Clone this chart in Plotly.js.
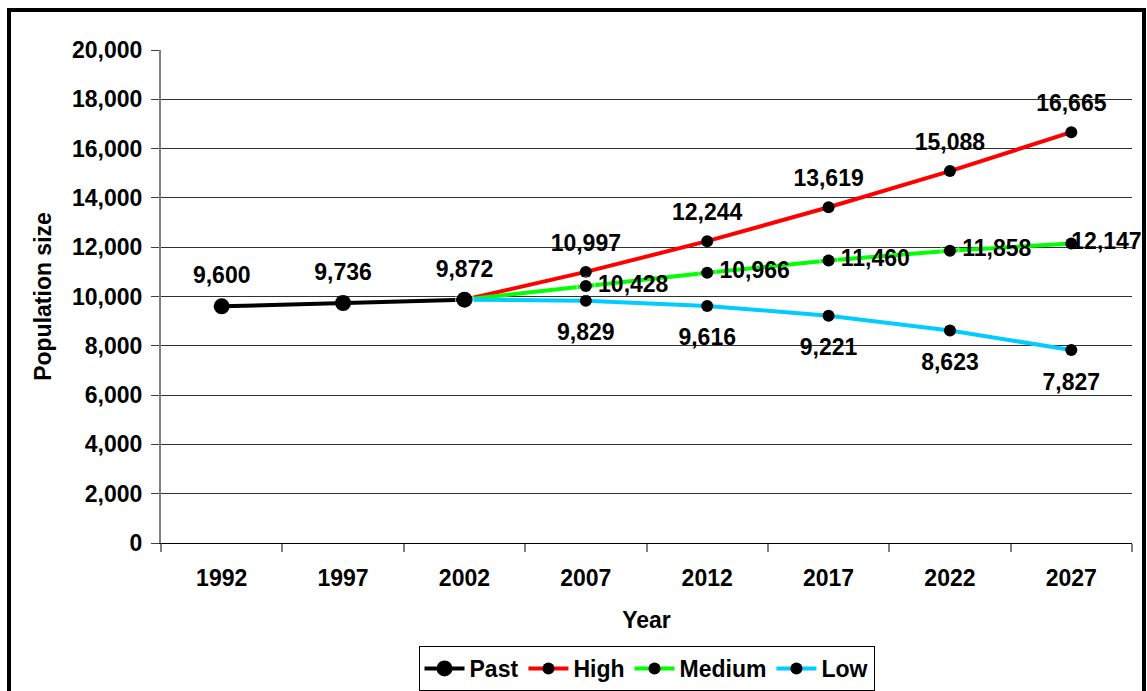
<!DOCTYPE html>
<html>
<head>
<meta charset="utf-8">
<script src="https://cdn.plot.ly/plotly-3.0.1.min.js"></script>
<style>
  html, body { margin: 0; padding: 0; background: #fff; overflow: hidden; }
  #chart { width: 1147px; height: 691px; }
  #frame { position: absolute; left: 7px; top: 8px; width: 1131px; height: 720px; border: 4px solid #000; pointer-events: none; }
</style>
</head>
<body>
<div id="chart"></div>
<div id="frame"></div>
<script>
const years = ['1992', '1997', '2002', '2007', '2012', '2017', '2022', '2027'];
const past   = [9600, 9736, 9872, null, null, null, null, null];
const high   = [null, null, 9872, 10997, 12244, 13619, 15088, 16665];
const medium = [null, null, 9872, 10428, 10966, 11460, 11858, 12147];
const low    = [null, null, 9872, 9829, 9616, 9221, 8623, 7827];
const yTicks = [0, 2000, 4000, 6000, 8000, 10000, 12000, 14000, 16000, 18000, 20000];

const FONT = 'Liberation Sans, Arial, sans-serif';
const textFont = { family: FONT, size: 23, color: '#000', weight: 700 };

function series(name, vals, color, msize, rank) {
  return {
    type: 'scatter', mode: 'lines+markers', name: name,
    x: years, y: vals, connectgaps: false, cliponaxis: false,
    line: { color: color, width: 4 },
    marker: { color: '#000', size: msize },
    legendrank: rank, hoverinfo: 'x+y'
  };
}

// text-only label traces; the transparent marker size sets the label offset
function labelTrace(vals, skipIdx, pos, padSize) {
  const txt = vals.map((v, i) => (v === null || i === skipIdx) ? '' : v.toLocaleString('en-US'));
  return {
    type: 'scatter', mode: 'markers+text', showlegend: false, hoverinfo: 'skip',
    x: years, y: vals, text: txt, textposition: pos, textfont: textFont,
    cliponaxis: false,
    marker: { size: padSize, color: 'rgba(0,0,0,0)' }
  };
}

const mediumPad = medium.map((v, i) => i === medium.length - 1 ? 0 : 18);

const data = [
  series('High', high, '#ff0000', 12, 2),
  series('Medium', medium, '#00ff00', 12, 3),
  series('Low', low, '#00ccff', 12, 4),
  series('Past', past, '#000000', 16, 1),
  labelTrace(past, -1, 'top center', 26),
  labelTrace(high, 2, 'top center', 23),
  labelTrace(medium, 2, 'middle right', mediumPad),
  labelTrace(low, 2, 'bottom center', 34)
];

const layout = {
  width: 1147, height: 691,
  margin: { l: 161, r: 15, t: 50, b: 148, autoexpand: false },
  paper_bgcolor: '#fff', plot_bgcolor: '#fff',
  font: { family: FONT, size: 23, color: '#000', weight: 700 },
  showlegend: true,
  legend: {
    orientation: 'h', x: 0.5, xanchor: 'center', xref: 'paper',
    yref: 'container', y: 1 - 646 / 691, yanchor: 'top',
    bordercolor: '#000', borderwidth: 1, bgcolor: '#fff',
    font: textFont, itemwidth: 40, tracegroupgap: 0
  },
  xaxis: {
    type: 'category', range: [-0.5, 7.5], automargin: false,
    tickson: 'boundaries', ticks: 'outside', ticklen: 8, tickcolor: '#808080', tickwidth: 2,
    showline: true, linecolor: '#000', linewidth: 1,
    showgrid: false, zeroline: false,
    ticklabelstandoff: 14,
    tickfont: textFont,
    title: { text: 'Year', font: textFont, standoff: 22 }
  },
  yaxis: {
    range: [0, 20000], tickvals: yTicks, automargin: false,
    ticktext: yTicks.map(v => v.toLocaleString('en-US')),
    ticks: 'outside', ticklen: 8, tickcolor: '#404040', tickwidth: 1,
    showline: true, linecolor: '#808080', linewidth: 2,
    showgrid: true, gridcolor: '#303030', gridwidth: 1,
    zeroline: false,
    ticklabelstandoff: 4,
    tickfont: textFont,
    title: { text: 'Population size', font: textFont, standoff: 14 }
  }
};

Plotly.newPlot('chart', data, layout, { displayModeBar: false, staticPlot: true });
</script>
</body>
</html>
